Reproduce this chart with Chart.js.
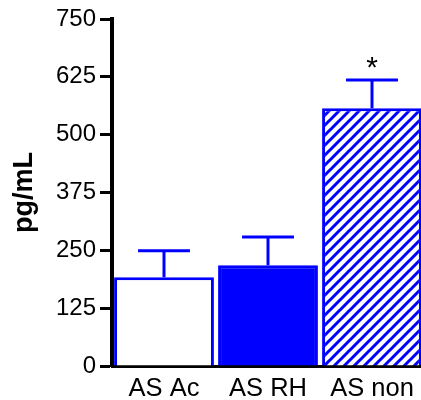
<!DOCTYPE html>
<html>
<head>
<meta charset="utf-8">
<script src="https://cdn.jsdelivr.net/npm/chart.js@4"></script>
<style>
  html, body { margin: 0; padding: 0; background: #fff; overflow: hidden; }
  #wrap { width: 424px; height: 400px; }
</style>
</head>
<body>
<div id="wrap"><canvas id="grafico"></canvas></div>
<script>
// datos
const categorias = ['AS Ac', 'AS RH', 'AS non'];
const medias = [192, 218, 557];
const errores = [57, 61, 61];
const marcas = ['', '', '*'];
const ticksY = [0, 125, 250, 375, 500, 625, 750];

const AZUL = '#0000ff';
const FUENTE = 'Arial, "Liberation Sans", sans-serif';

// patron de rayas diagonales para la tercera barra
function crearRayas() {
  const c = document.createElement('canvas');
  c.width = 10; c.height = 10;
  const g = c.getContext('2d');
  g.fillStyle = '#fff';
  g.fillRect(0, 0, 10, 10);
  g.strokeStyle = AZUL;
  g.lineWidth = 3;
  g.beginPath();
  g.moveTo(-5, 5); g.lineTo(5, -5);
  g.moveTo(0, 10); g.lineTo(10, 0);
  g.moveTo(5, 15); g.lineTo(15, 5);
  g.stroke();
  return document.getElementById('grafico').getContext('2d').createPattern(c, 'repeat');
}

// barras de error (solo hacia arriba) y asterisco
const barrasError = {
  id: 'barrasError',
  afterDatasetsDraw(chart) {
    const ctx = chart.ctx;
    const y = chart.scales.y;
    const meta = chart.getDatasetMeta(0);
    ctx.save();
    ctx.strokeStyle = AZUL;
    ctx.lineWidth = 3;
    meta.data.forEach((bar, i) => {
      const yTop = y.getPixelForValue(medias[i]);
      const yErr = y.getPixelForValue(medias[i] + errores[i]);
      const half = bar.width * 0.26;
      ctx.beginPath();
      ctx.moveTo(bar.x, yTop);
      ctx.lineTo(bar.x, yErr);
      ctx.moveTo(bar.x - half, yErr);
      ctx.lineTo(bar.x + half, yErr);
      ctx.stroke();
      if (marcas[i]) {
        ctx.fillStyle = '#000';
        ctx.font = '30px ' + FUENTE;
        ctx.textAlign = 'center';
        ctx.textBaseline = 'alphabetic';
        ctx.fillText(marcas[i], bar.x, yErr - 3);
      }
    });
    ctx.restore();
  }
};

new Chart(document.getElementById('grafico'), {
  type: 'bar',
  data: {
    labels: categorias,
    datasets: [{
      data: medias,
      backgroundColor: ['#ffffff', AZUL, crearRayas()],
      borderColor: AZUL,
      borderWidth: 3,
      borderSkipped: 'bottom',
      barPercentage: 0.96,
      categoryPercentage: 1
    }]
  },
  options: {
    responsive: true,
    maintainAspectRatio: false,
    animation: false,
    layout: { padding: { top: 19, right: 0, left: 0, bottom: 0 } },
    plugins: {
      legend: { display: false },
      tooltip: { enabled: false }
    },
    scales: {
      x: {
        grid: { display: false },
        border: { display: true, color: '#000', width: 3 },
        ticks: {
          color: '#000',
          padding: 0,
          font: { family: FUENTE, size: 25.5 }
        },
        afterFit: (s) => { s.height = 34; }
      },
      y: {
        min: 0,
        max: 750,
        afterBuildTicks: (s) => { s.ticks = ticksY.map(v => ({ value: v })); },
        grid: {
          drawOnChartArea: false,
          drawTicks: true,
          tickLength: 12,
          tickWidth: 3,
          color: '#000'
        },
        border: { display: true, color: '#000', width: 4 },
        ticks: {
          color: '#000',
          padding: 4,
          font: { family: FUENTE, size: 24 }
        },
        title: {
          display: true,
          text: 'pg/mL',
          color: '#000',
          padding: { top: 8, bottom: 0 },
          font: { family: FUENTE, size: 27, weight: 'bold' }
        },
        afterFit: (s) => { s.width = 112; }
      }
    }
  },
  plugins: [barrasError]
});
</script>
</body>
</html>
